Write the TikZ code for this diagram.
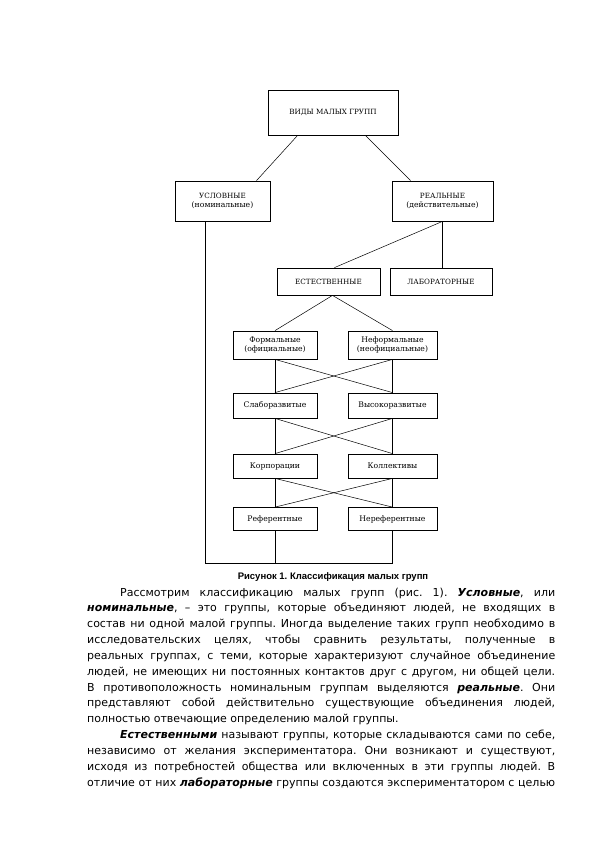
\documentclass[tikz,border=0pt]{standalone}
\usepackage{fontspec}
\setmainfont{DejaVu Sans}
\newfontfamily\diagfont{DejaVu Serif}
\newfontfamily\capfont{Liberation Sans}
\frenchspacing
\begin{document}
\begin{tikzpicture}[x=1pt,y=-1pt,
  box/.style={draw, line width=0.8pt, inner sep=1pt, align=center,
    font=\diagfont\fontsize{7.7}{8.6}\selectfont},
  capsbox/.style={box, font=\diagfont\fontsize{7.2}{8.6}\selectfont},
  link/.style={line width=0.5pt},
  ln/.style={anchor=base west, inner sep=0pt, font=\fontsize{11}{13}\selectfont},
  capt/.style={anchor=base, inner sep=0pt, font=\capfont\bfseries\fontsize{9.5}{11}\selectfont}
]
\useasboundingbox (0,0) rectangle (595,842);
% boxes
\node[capsbox, minimum width=130pt, minimum height=45pt] (top) at (333,112.5) {ВИДЫ МАЛЫХ ГРУПП};
\node[box, minimum width=95pt, minimum height=40pt] (usl) at (222.5,201) {{\fontsize{7.2}{8.6}\selectfont УСЛОВНЫЕ}\\(номинальные)};
\node[box, minimum width=101pt, minimum height=40pt] (real) at (442.5,201) {{\fontsize{7.2}{8.6}\selectfont РЕАЛЬНЫЕ}\\(действительные)};
\node[capsbox, minimum width=103pt, minimum height=27pt] (est) at (328.5,281.5) {ЕСТЕСТВЕННЫЕ};
\node[capsbox, minimum width=102pt, minimum height=27pt] (lab) at (441,281.5) {ЛАБОРАТОРНЫЕ};
\node[box, minimum width=84pt, minimum height=28pt] (form) at (275,345) {Формальные\\(официальные)};
\node[box, minimum width=89pt, minimum height=28pt] (nform) at (392.5,345) {Неформальные\\(неофициальные)};
\node[box, minimum width=84pt, minimum height=25pt] (slab) at (275,405.5) {Слаборазвитые};
\node[box, minimum width=89pt, minimum height=25pt] (vys) at (392.5,405.5) {Высокоразвитые};
\node[box, minimum width=84pt, minimum height=24pt] (korp) at (275,466) {Корпорации};
\node[box, minimum width=89pt, minimum height=24pt] (koll) at (392.5,466) {Коллективы};
\node[box, minimum width=84pt, minimum height=23pt] (ref) at (275,519) {Референтные};
\node[box, minimum width=89pt, minimum height=23pt] (nref) at (392.5,519) {Нереферентные};
\coordinate (lb) at (205,563);
% connectors
\draw[link] ([xshift=30pt]top.south west) -- ([xshift=34pt]usl.north);
\draw[link] ([xshift=-33pt]top.south east) -- ([xshift=-32pt]real.north);
\draw[link] (real.south) -- ([xshift=6pt]est.north);
\draw[link] (real.south) -- (real.south |- lab.north);
\draw[link] ([xshift=4pt]est.south) -- (form.north);
\draw[link] ([xshift=4pt]est.south) -- (nform.north);
\foreach \a/\b/\c/\d in {form/nform/slab/vys, slab/vys/korp/koll, korp/koll/ref/nref}{
  \draw[link] (\a.south) -- (\c.north);
  \draw[link] (\b.south) -- (\d.north);
  \draw[link] (\a.south) -- (\d.north);
  \draw[link] (\b.south) -- (\c.north);
}
\draw[link] (usl.south -| lb) -- (lb) -- (lb -| nref.south) -- (nref.south);
\draw[link] (ref.south) -- (ref.south |- lb);
% caption
\node[capt] (cap) at (333,579) {Рисунок 1. Классификация малых групп};
% body text
\node[ln] (l1) at (120,596) {\makebox[435pt][s]{Рассмотрим классификацию малых групп (рис. 1). \textbf{\textit{Условные}}, или}};
\node[ln] (l2) at (87,611.85) {\makebox[468pt][s]{\textbf{\textit{номинальные}}, – это группы, которые объединяют людей, не входящих в}};
\node[ln] (l3) at (87,627.7) {\makebox[468pt][s]{состав ни одной малой группы. Иногда выделение таких групп необходимо в}};
\node[ln] (l4) at (87,643.55) {\makebox[468pt][s]{исследовательских целях, чтобы сравнить результаты, полученные в}};
\node[ln] (l5) at (87,659.4) {\makebox[468pt][s]{реальных группах, с теми, которые характеризуют случайное объединение}};
\node[ln] (l6) at (87,675.25) {\makebox[468pt][s]{людей, не имеющих ни постоянных контактов друг с другом, ни общей цели.}};
\node[ln] (l7) at (87,691.1) {\makebox[468pt][s]{В противоположность номинальным группам выделяются \textbf{\textit{реальные}}. Они}};
\node[ln] (l8) at (87,706.95) {\makebox[468pt][s]{представляют собой действительно существующие объединения людей,}};
\node[ln] (l9) at (87,722.8) {полностью отвечающие определению малой группы.};
\node[ln] (l10) at (120,738.65) {\makebox[435pt][s]{\textbf{\textit{Естественными}} называют группы, которые складываются сами по себе,}};
\node[ln] (l11) at (87,754.5) {\makebox[468pt][s]{независимо от желания экспериментатора. Они возникают и существуют,}};
\node[ln] (l12) at (87,770.35) {\makebox[468pt][s]{исходя из потребностей общества или включенных в эти группы людей. В}};
\node[ln] (l13) at (87,786.2) {\makebox[468pt][s]{отличие от них \textbf{\textit{лабораторные}} группы создаются экспериментатором с целью}};
\end{tikzpicture}
\end{document}
